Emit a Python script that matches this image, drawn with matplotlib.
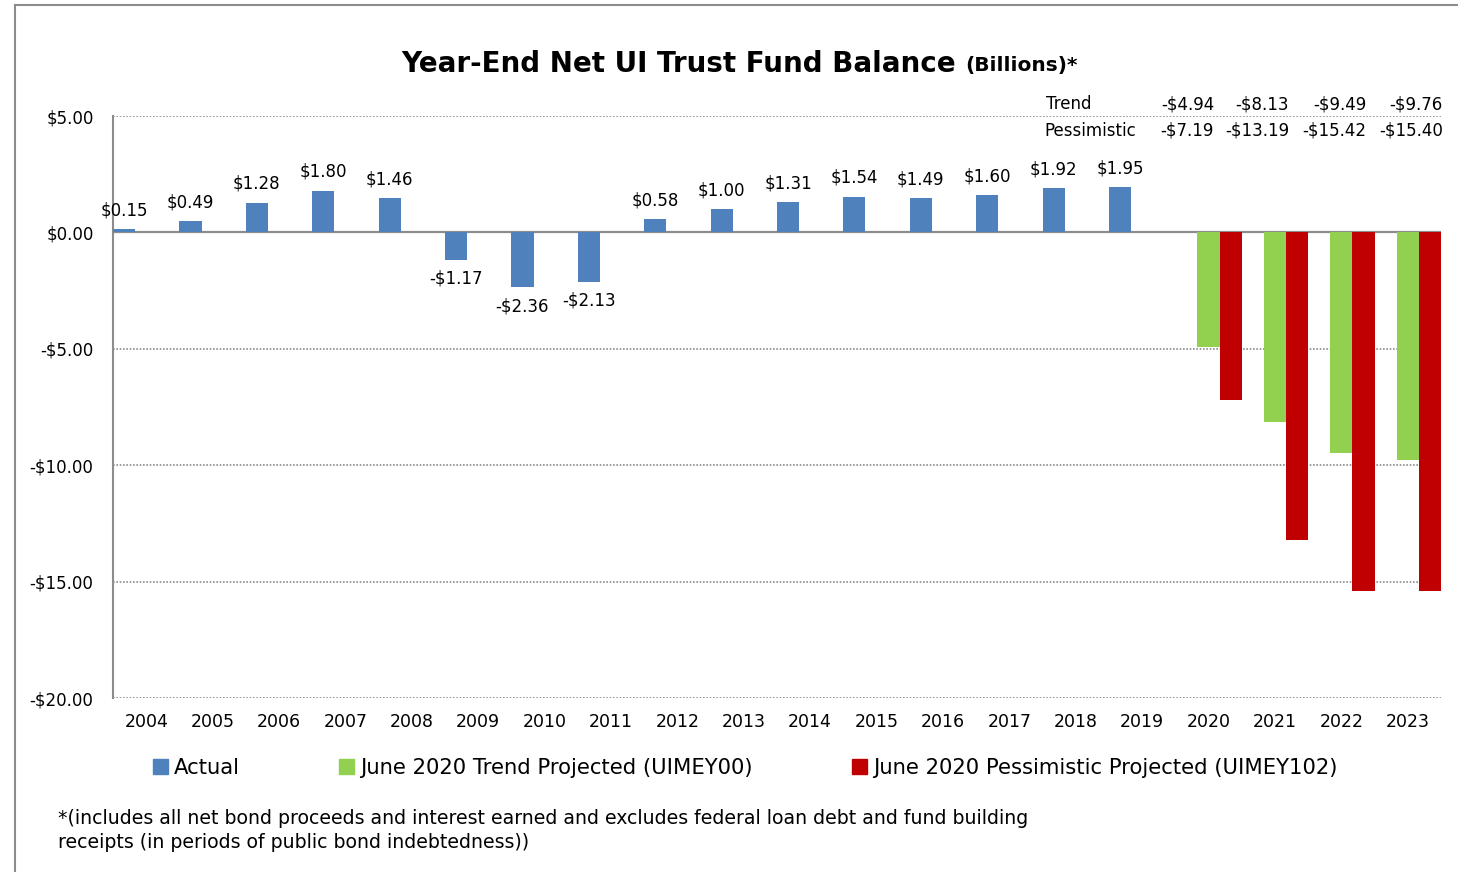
import numpy as np
import matplotlib
matplotlib.use("Agg")
import matplotlib.pyplot as plt
from matplotlib.patches import Patch
from matplotlib.lines import Line2D

years = [str(y) for y in range(2004, 2024)]
actual_years = years[:16]
actual = [0.15, 0.49, 1.28, 1.80, 1.46, -1.17, -2.36, -2.13,
          0.58, 1.00, 1.31, 1.54, 1.49, 1.60, 1.92, 1.95]
proj_years = years[16:]
trend = [-4.94, -8.13, -9.49, -9.76]
pessimistic = [-7.19, -13.19, -15.42, -15.40]

c_actual = "#4F81BD"
c_trend = "#92D050"
c_pess = "#C00000"
grey = "#8c8c8c"

plt.rcParams['font.family'] = ['DejaVu Sans']


def money(v):
    return ("-$%.2f" % abs(v)) if v < 0 else ("$%.2f" % v)


fig = plt.figure(figsize=(14.58, 8.72), dpi=100)
ax = fig.add_axes([0.0775, 0.1995, 0.9108, 0.6674])

x = np.arange(len(years))
w = 1 / 3
xa = x[:16]
xp = x[16:]
b1 = ax.bar(xa - w, actual, width=w, color=c_actual, zorder=3)
ax.bar(xp, trend, width=w, color=c_trend, zorder=3)
ax.bar(xp + w, pessimistic, width=w, color=c_pess, zorder=3)
ax.bar_label(b1, labels=[money(v) for v in actual], padding=7, fontsize=12, zorder=4)

ax.set_xlim(-0.5, len(years) - 0.5)
ax.set_ylim(-20, 5)
ax.set_yticks([5, 0, -5, -10, -15, -20])
ax.set_yticklabels([money(v) for v in [5, 0, -5, -10, -15, -20]], fontsize=12)
ax.set_xticks(x)
ax.set_xticklabels(years, fontsize=12.5)
ax.tick_params(axis='y', length=0, pad=14)
ax.tick_params(axis='x', length=0, pad=11)
for s in ['top', 'right', 'bottom']:
    ax.spines[s].set_visible(False)
ax.spines['left'].set_color(grey)
ax.spines['left'].set_linewidth(1.5)
ax.yaxis.grid(True, linestyle=(0, (1, 1)), color=grey, linewidth=1.2, zorder=0)
ax.axhline(0, color=grey, linewidth=1.6, zorder=2)

# title
fig.text(401 / 1458, 1 - 64 / 872, "Year-End Net UI Trust Fund Balance", fontsize=20,
         fontweight='bold', ha='left', va='center')
fig.text(965 / 1458, 1 - 66 / 872, "(Billions)*", fontsize=14.5, fontweight='bold',
         ha='left', va='center')

# projection table
fig.text(1092 / 1458, 1 - 104 / 872, "Trend", fontsize=12, ha='right', va='center')
fig.text(1136 / 1458, 1 - 131 / 872, "Pessimistic", fontsize=12, ha='right', va='center')
col_right = [1214, 1289, 1366, 1443]
for i in range(4):
    fig.text(col_right[i] / 1458, 1 - 104 / 872, money(trend[i]), fontsize=12,
             ha='right', va='center')
    fig.text(col_right[i] / 1458, 1 - 131 / 872, money(pessimistic[i]), fontsize=12,
             ha='right', va='center')

# legend
handles = [Patch(color=c_actual), Patch(color=c_trend), Patch(color=c_pess)]
names = ["Actual", "June 2020 Trend Projected (UIMEY00)",
         "June 2020 Pessimistic Projected (UIMEY102)"]
fig.legend(handles, names, ncol=3, loc='center left', bbox_to_anchor=(0.105, 1 - 768 / 872),
           frameon=False, fontsize=15.2, handlelength=0.7, handleheight=0.7,
           handletextpad=0.3, columnspacing=4.7, borderaxespad=0, borderpad=0)

# footnote
fig.text(58 / 1458, 1 - 818 / 872,
         "*(includes all net bond proceeds and interest earned and excludes federal loan debt and fund building",
         fontsize=13.6, ha='left', va='center')
fig.text(58 / 1458, 1 - 842 / 872, "receipts (in periods of public bond indebtedness))",
         fontsize=13.6, ha='left', va='center')

# outer frame
fig.add_artist(Line2D([15 / 1458, 15 / 1458], [0, 1 - 5 / 872], color=grey, linewidth=1.5))
fig.add_artist(Line2D([15 / 1458, 1], [1 - 5 / 872, 1 - 5 / 872], color=grey, linewidth=1.5))

fig.savefig("out.png", dpi=100)
